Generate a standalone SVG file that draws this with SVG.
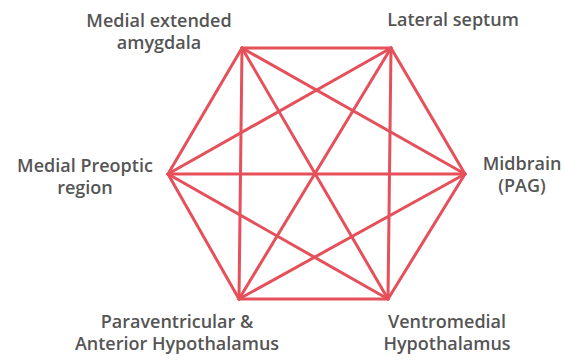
<svg xmlns="http://www.w3.org/2000/svg" width="565" height="361" viewBox="0 0 565 361">
<style>
.e{stroke:#E5505A;stroke-width:3;stroke-linecap:round;fill:none}
.t{font-family:"Open Sans","Noto Sans",sans-serif;font-size:18px;font-weight:600;fill:#555555;text-anchor:middle}
</style>
<rect width="565" height="361" fill="#ffffff"/>
<g id="connectors">
<line class="e" x1="242" y1="48" x2="391" y2="48"/>
<line class="e" x1="242" y1="48" x2="465" y2="174"/>
<line class="e" x1="242" y1="48" x2="388" y2="299"/>
<line class="e" x1="242" y1="48" x2="239" y2="299"/>
<line class="e" x1="242" y1="48" x2="168" y2="174"/>
<line class="e" x1="391" y1="48" x2="465" y2="174"/>
<line class="e" x1="391" y1="48" x2="388" y2="299"/>
<line class="e" x1="391" y1="48" x2="239" y2="299"/>
<line class="e" x1="391" y1="48" x2="168" y2="174"/>
<line class="e" x1="465" y1="174" x2="388" y2="299"/>
<line class="e" x1="465" y1="174" x2="239" y2="299"/>
<line class="e" x1="465" y1="174" x2="168" y2="174"/>
<line class="e" x1="388" y1="299" x2="239" y2="299"/>
<line class="e" x1="388" y1="299" x2="168" y2="174"/>
<line class="e" x1="239" y1="299" x2="168" y2="174"/>
</g>
<g id="mea"><text class="t" x="159" y="27">Medial extended</text><text class="t" x="159" y="49">amygdala</text></g>
<g id="ls"><text class="t" x="453" y="26">Lateral septum</text></g>
<g id="mpo"><text class="t" x="85" y="172">Medial Preoptic</text><text class="t" x="85" y="194">region</text></g>
<g id="pag"><text class="t" x="522" y="170">Midbrain</text><text class="t" x="522" y="192">(PAG)</text></g>
<g id="pvn"><text class="t" x="177" y="328">Paraventricular &amp;</text><text class="t" x="177" y="350">Anterior Hypothalamus</text></g>
<g id="vmh"><text class="t" x="447" y="328">Ventromedial</text><text class="t" x="447" y="350">Hypothalamus</text></g>
</svg>
